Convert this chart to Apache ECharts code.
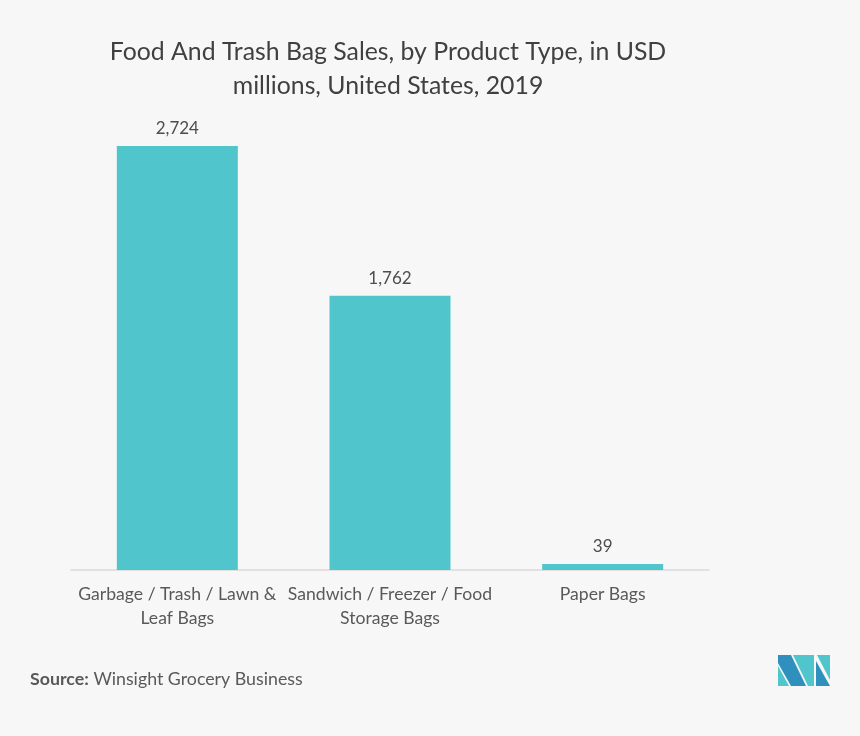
<!DOCTYPE html>
<html>
<head>
<meta charset="utf-8">
<style>html,body{margin:0;padding:0;background:#f7f7f7}#chart{width:860px;height:736px}</style>
<script src="https://cdn.jsdelivr.net/npm/echarts@6/dist/echarts.min.js"></script>
</head>
<body>
<div id="chart"></div>
<script>
var categories = ['Garbage / Trash / Lawn &\nLeaf Bags', 'Sandwich / Freezer / Food\nStorage Bags', 'Paper Bags'];
var sales = [2724, 1762, 39];
var titleLines = 'Food And Trash Bag Sales, by Product Type, in USD\nmillions, United States, 2019';
var fontName = 'Lato';

var myChart = echarts.init(document.getElementById('chart'));
myChart.setOption({
	backgroundColor: '#f7f7f7',
	animation: false,
	title: {
		text: titleLines,
		left: 383, top: 30, textAlign: 'center',
		textStyle: {fontFamily: fontName, fontSize: 24.8, fontWeight: 'normal', color: '#404040', lineHeight: 34}
	},
	grid: {left: 71, right: 151, top: 146, bottom: 166},
	xAxis: {
		type: 'category',
		data: categories,
		axisLine: {lineStyle: {color: '#dadada', width: 1.5}},
		axisTick: {show: false},
		axisLabel: {interval: 0, margin: 12, fontFamily: fontName, fontSize: 17.6, color: '#595959', lineHeight: 24}
	},
	yAxis: {type: 'value', min: 0, max: 2724, show: false},
	series: [{
		type: 'bar',
		data: sales,
		barWidth: 121,
		itemStyle: {color: '#50c5cc'},
		label: {show: true, position: 'top', distance: 9, fontFamily: fontName, fontSize: 17, color: '#4d4d4d',
			formatter: function (p) { return p.value.toLocaleString('en-US'); }}
	}],
	graphic: [
		{type: 'text', left: 30, top: 670, style: {
			text: '{b|Source:} Winsight Grocery Business',
			fontFamily: fontName, fontSize: 17.8, fill: '#595959',
			rich: {b: {fontFamily: fontName, fontSize: 17.8, fontWeight: 'bold', fill: '#595959', color: '#595959'}}
		}},
		{type: 'polygon', shape: {points: [[778,655],[791,655],[806,686],[791,686],[778,663]]}, style: {fill: '#2f8fbd'}},
		{type: 'polygon', shape: {points: [[778,666],[778,686],[789,686]]}, style: {fill: '#50c5cc'}},
		{type: 'polygon', shape: {points: [[793,655],[814,655],[814,686],[808,686]]}, style: {fill: '#50c5cc'}},
		{type: 'polygon', shape: {points: [[816,661],[816,686],[830,686]]}, style: {fill: '#2f8fbd'}},
		{type: 'polygon', shape: {points: [[817,655],[830,655],[830,680]]}, style: {fill: '#50c5cc'}}
	]
});
</script>
</body>
</html>
